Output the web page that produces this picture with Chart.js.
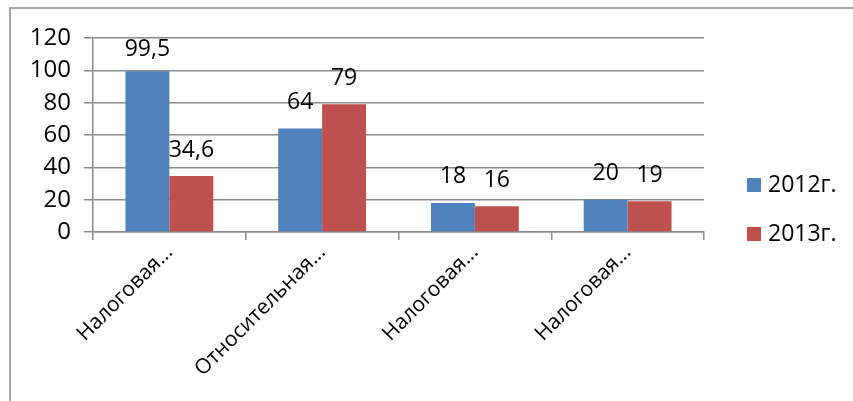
<!DOCTYPE html>
<html>
<head>
<meta charset="utf-8">
<script src="https://cdn.jsdelivr.net/npm/chart.js@4"></script>
<style>
    html, body { margin:0; padding:0; background:#fff; overflow:hidden; }
    #frame { position:absolute; left:9px; top:7px; width:900px; height:500px; border:2px solid #a6a6a6; }
    #wrap { position:absolute; left:0; top:0; width:853px; height:401px; }
</style>
</head>
<body>
<div id="frame"></div>
<div id="wrap"><canvas id="barChart" width="853" height="401"></canvas></div>
<script>
// data
const categories = ["Налоговая...", "Относительная...", "Налоговая...", "Налоговая..."];
const seriesNames = ["2012г.", "2013г."];
const values2012 = [99.5, 64, 18, 20];
const values2013 = [34.6, 79, 16, 19];
const yTicks = [0, 20, 40, 60, 80, 100, 120];

const FONT = "'Open Sans', 'Noto Sans', sans-serif";
const GRID = "#8a8a8a";
const INK = "#000";

// value labels above bars, comma as decimal sign
const valueLabels = {
    id: "valueLabels",
    afterDatasetsDraw(chart) {
        const ctx = chart.ctx;
        ctx.save();
        ctx.font = "23px " + FONT;
        ctx.fillStyle = INK;
        ctx.textAlign = "center";
        ctx.textBaseline = "middle";
        chart.data.datasets.forEach((ds, i) => {
            chart.getDatasetMeta(i).data.forEach((bar, j) => {
                const txt = String(ds.data[j]).replace(".", ",");
                const y = Math.max(bar.y - 26, chart.chartArea.top + 11);
                ctx.fillText(txt, bar.x, y);
            });
        });
        ctx.restore();
    }
};

// legend on the right
const sideLegend = {
    id: "sideLegend",
    afterDraw(chart) {
        const ctx = chart.ctx;
        const area = chart.chartArea;
        ctx.save();
        ctx.font = "23px " + FONT;
        ctx.textBaseline = "middle";
        ctx.textAlign = "left";
        chart.data.datasets.forEach((ds, i) => {
            const cy = 185 + i * 49;
            const x = area.right + 43;
            ctx.fillStyle = ds.backgroundColor;
            ctx.fillRect(x, cy - 7, 14, 14);
            ctx.fillStyle = INK;
            ctx.fillText(ds.label, x + 21, cy);
        });
        ctx.restore();
    }
};

new Chart(document.getElementById("barChart"), {
    type: "bar",
    data: {
        labels: categories,
        datasets: [
            { label: seriesNames[0], data: values2012, backgroundColor: "#4F81BD" },
            { label: seriesNames[1], data: values2013, backgroundColor: "#C0504D" }
        ]
    },
    options: {
        responsive: false,
        animation: false,
        layout: { padding: { left: 0, top: 38, right: 149, bottom: 0 } },
        datasets: { bar: { categoryPercentage: 0.575, barPercentage: 1 } },
        plugins: {
            legend: { display: false },
            tooltip: { enabled: false }
        },
        scales: {
            x: {
                offset: true,
                grid: { offset: true, drawOnChartArea: false, drawTicks: true, tickLength: 8, color: GRID, lineWidth: 1.5 },
                border: { color: GRID, width: 1.5 },
                ticks: {
                    color: INK,
                    font: { family: FONT, size: 21 },
                    minRotation: 45,
                    maxRotation: 45,
                    autoSkip: false,
                    padding: 0
                },
                afterFit(scale) { scale.height = 401 - 232; }
            },
            y: {
                min: 0,
                max: 120,
                afterBuildTicks(scale) { scale.ticks = yTicks.map(v => ({ value: v })); },
                grid: { color: GRID, lineWidth: 1.5, tickLength: 9 },
                border: { color: GRID, width: 1.5 },
                ticks: {
                    color: INK,
                    font: { family: FONT, size: 24 },
                    padding: 13
                },
                afterFit(scale) { scale.width = 93; }
            }
        }
    },
    plugins: [valueLabels, sideLegend]
});
</script>
</body>
</html>
